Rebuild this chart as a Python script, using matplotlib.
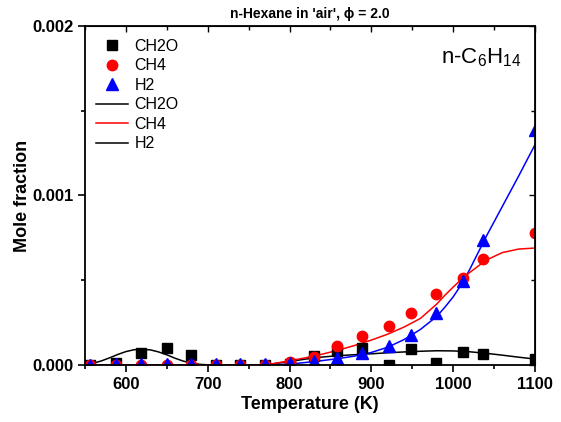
import numpy as np
import matplotlib
matplotlib.use("Agg")
import matplotlib.pyplot as plt
from matplotlib.lines import Line2D
from matplotlib.ticker import MultipleLocator, FormatStrFormatter

plt.rcParams['font.family'] = ['Liberation Sans', 'DejaVu Sans']
plt.rcParams['mathtext.fontset'] = 'custom'
plt.rcParams['mathtext.rm'] = 'Liberation Sans'
plt.rcParams['mathtext.it'] = 'Liberation Sans:italic'
plt.rcParams['mathtext.bf'] = 'Liberation Sans:bold'

# measured points
temp = [556, 588, 618, 650, 679, 710, 740, 770, 800, 830, 858, 888, 921, 949, 979, 1012, 1036, 1100]
ch2o = [0.0, 1.0e-5, 7.0e-5, 1.0e-4, 5.7e-5, 0.0, 0.0, 0.0, 5e-6, 5.3e-5, 8.5e-5, 9.8e-5,
        0.0, 9.3e-5, 1.0e-5, 7.5e-5, 6.3e-5, 3.4e-5]
ch4 = [0.0, 0.0, 0.0, 0.0, 0.0, 0.0, 0.0, 0.0, 1.5e-5, 5.0e-5, 1.12e-4, 1.73e-4,
       2.32e-4, 3.05e-4, 4.18e-4, 5.11e-4, 6.24e-4, 7.8e-4]
h2 = [0.0, 5e-6, 5e-6, 5e-6, 5e-6, 5e-6, 5e-6, 5e-6, 1.0e-5, 2.5e-5, 4.0e-5, 6.9e-5,
      1.12e-4, 1.77e-4, 3.07e-4, 4.96e-4, 7.38e-4, 1.386e-3]

# model curves
t_ch2o = [550, 560, 570, 580, 590, 600, 610, 620, 630, 640, 650, 660, 670, 680, 690, 700,
          760, 770, 780, 790, 800, 820, 840, 860, 880, 900, 920, 940, 960, 980, 1000,
          1020, 1040, 1060, 1080, 1100]
m_ch2o = [0.2e-5, 1.0e-5, 2.4e-5, 4.2e-5, 6.2e-5, 7.9e-5, 9.0e-5, 9.3e-5, 8.9e-5, 7.7e-5,
          6.0e-5, 4.0e-5, 2.3e-5, 1.1e-5, 0.4e-5, 0.1e-5,
          0.0, 0.2e-5, 0.7e-5, 1.4e-5, 2.1e-5, 3.5e-5, 4.7e-5, 5.5e-5, 6.1e-5, 6.6e-5,
          7.2e-5, 7.7e-5, 8.1e-5, 8.4e-5, 8.3e-5, 7.8e-5, 6.9e-5, 5.8e-5, 4.6e-5, 3.5e-5]
t_mod = [550, 760, 780, 800, 820, 840, 860, 880, 900, 920, 940, 960, 980, 990, 1000,
         1010, 1020, 1040, 1060, 1080, 1100]
m_ch4 = [0.0, 0.0, 0.8e-5, 2.5e-5, 4.3e-5, 6.4e-5, 8.8e-5, 1.16e-4, 1.47e-4, 1.82e-4,
         2.24e-4, 2.75e-4, 3.6e-4, 4.12e-4, 4.6e-4, 5.05e-4, 5.45e-4, 6.18e-4, 6.63e-4,
         6.84e-4, 6.9e-4]
m_h2 = [0.0, 0.0, 0.2e-5, 0.5e-5, 1.5e-5, 2.6e-5, 3.8e-5, 5.3e-5, 7.4e-5, 1.05e-4,
        1.5e-4, 2.1e-4, 2.87e-4, 3.42e-4, 4.02e-4, 4.75e-4, 5.62e-4, 7.55e-4, 9.35e-4,
        1.115e-3, 1.30e-3]

fig = plt.figure(figsize=(5.61, 4.22), dpi=100)
ax = fig.add_axes((0.1515, 0.1351, 0.8022, 0.8033))

ax.plot(t_ch2o, m_ch2o, color="black", lw=1.1)
ax.plot(t_mod, m_h2, color="blue", lw=1.1)
ax.plot(t_mod, m_ch4, color="red", lw=1.1)

ax.plot(temp, ch2o, ls="none", marker="s", ms=6.5, color="black")
ax.plot(temp, ch4, ls="none", marker="o", ms=7.5, color="red")
ax.plot(temp, h2, ls="none", marker="^", ms=8, color="blue")

ax.set_xlim(550, 1100)
ax.set_ylim(0, 0.002)
ax.xaxis.set_major_locator(MultipleLocator(100))
ax.xaxis.set_minor_locator(MultipleLocator(50))
ax.yaxis.set_major_locator(MultipleLocator(0.001))
ax.yaxis.set_minor_locator(MultipleLocator(0.0005))
ax.yaxis.set_major_formatter(FormatStrFormatter("%.3f"))
ax.tick_params(which="both", direction="out", width=1.2, labelsize=12)
ax.tick_params(which="major", length=5)
ax.tick_params(which="minor", length=3)
for lab in ax.get_xticklabels() + ax.get_yticklabels():
    lab.set_fontweight("bold")
for sp in ax.spines.values():
    sp.set_linewidth(1.3)

# mirrored ticks pointing inward
top = ax.secondary_xaxis("top")
top.xaxis.set_major_locator(MultipleLocator(100))
top.xaxis.set_minor_locator(MultipleLocator(50))
top.tick_params(which="both", direction="in", labeltop=False, width=1.0)
top.tick_params(which="major", length=4)
top.tick_params(which="minor", length=3)
right = ax.secondary_yaxis("right")
right.yaxis.set_major_locator(MultipleLocator(0.001))
right.yaxis.set_minor_locator(MultipleLocator(0.0005))
right.tick_params(which="both", direction="in", labelright=False, width=1.0)
right.tick_params(which="major", length=4)
right.tick_params(which="minor", length=3)

ax.set_xlabel("Temperature (K)", fontsize=13, fontweight="bold", labelpad=3)
ax.set_ylabel("Mole fraction", fontsize=13, fontweight="bold", labelpad=1)
ax.set_title("n-Hexane in 'air', \u03d5 = 2.0", fontsize=10, fontweight="bold", pad=6)

ax.text(0.97, 0.94, "n-C$_6$H$_{14}$", transform=ax.transAxes, ha="right", va="top",
        fontsize=16)

handles = [
    Line2D([], [], ls="none", marker="s", ms=6.5, color="black"),
    Line2D([], [], ls="none", marker="o", ms=7.5, color="red"),
    Line2D([], [], ls="none", marker="^", ms=8, color="blue"),
    Line2D([], [], color="black", lw=1.1),
    Line2D([], [], color="red", lw=1.1),
    Line2D([], [], color="black", lw=1.1),
]
labels = ["CH2O", "CH4", "H2", "CH2O", "CH4", "H2"]
ax.legend(handles, labels, loc="upper left", frameon=False, fontsize=11.5,
          handlelength=2.0, handletextpad=0.4, labelspacing=0.28,
          borderaxespad=0.3, bbox_to_anchor=(0.0, 0.995))

fig.savefig("out.png", dpi=100)
